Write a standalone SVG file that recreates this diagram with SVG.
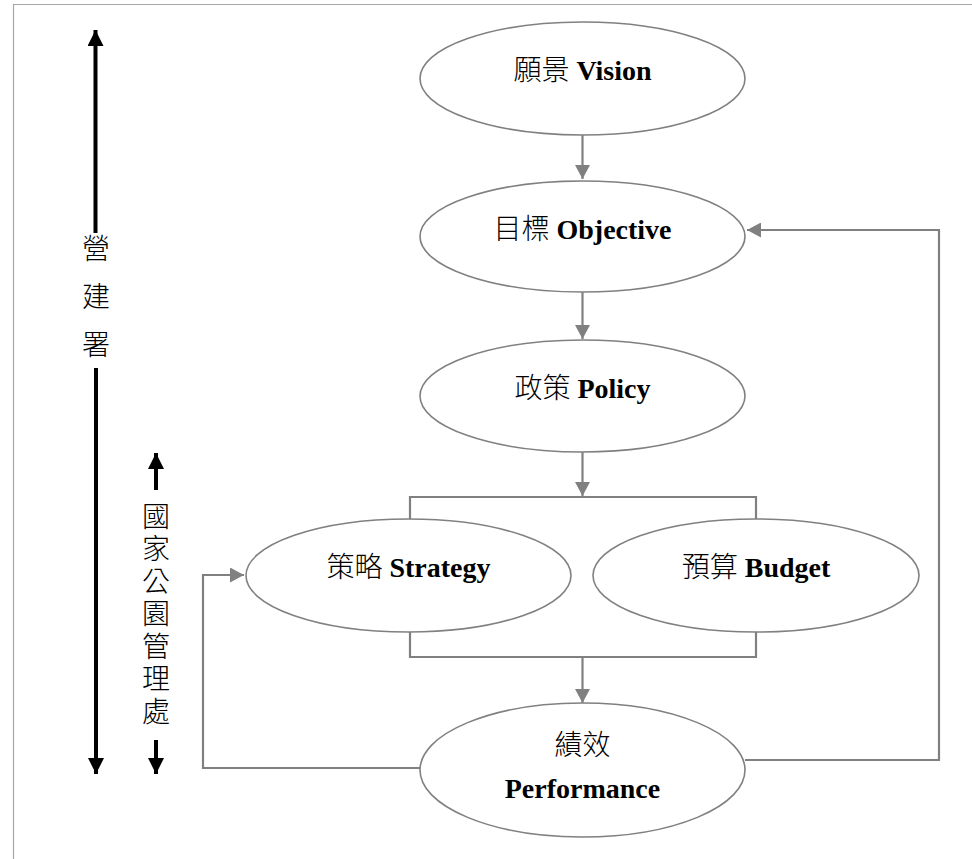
<svg xmlns="http://www.w3.org/2000/svg" width="972" height="859" viewBox="0 0 972 859">
<defs>
<style>
.node ellipse{fill:#fff;stroke:#808080;stroke-width:1.6}
.lbl{font-size:28px;text-anchor:middle;fill:#000}
.zh{font-family:"Noto Sans CJK TC","Noto Sans CJK SC",sans-serif;font-weight:300}
.en{font-family:"Liberation Serif","Times New Roman",serif;font-weight:bold}
.conn{fill:none;stroke:#808080;stroke-width:2.2}
.side{fill:none;stroke:#000;stroke-width:4}
.vt{font-family:"Noto Sans CJK TC","Noto Sans CJK SC",sans-serif;font-weight:300;font-size:28px;fill:#000;writing-mode:vertical-rl;text-orientation:upright}
</style>
<marker id="ag" viewBox="0 0 14 15" refX="14" refY="7.5" markerWidth="14" markerHeight="15" orient="auto" markerUnits="userSpaceOnUse">
<path d="M0,0 L14,7.5 L0,15 z" fill="#808080"/>
</marker>
<marker id="ab" viewBox="0 0 16 16" refX="16" refY="8" markerWidth="16" markerHeight="16" orient="auto" markerUnits="userSpaceOnUse">
<path d="M0,0 L16,8 L0,16 z" fill="#000"/>
</marker>
</defs>
<rect width="972" height="859" fill="#fff"/>
<path d="M13.5,859 V4.5 H972" fill="none" stroke="#a6a6a6" stroke-width="1.2"/>

<g id="connectors">
<path class="conn" d="M582.5,135 V179" marker-end="url(#ag)"/>
<path class="conn" d="M582.5,292 V339" marker-end="url(#ag)"/>
<path class="conn" d="M582.5,452 V496" marker-end="url(#ag)"/>
<path class="conn" d="M410,519 V497 H756 V519"/>
<path class="conn" d="M410,632 V657 H756 V632"/>
<path class="conn" d="M582.5,657 V703" marker-end="url(#ag)"/>
<path class="conn" d="M420,768 H203 V575 H244" marker-end="url(#ag)"/>
<path class="conn" d="M745,760 H939 V230 H747" marker-end="url(#ag)"/>
</g>

<g id="n-vision" class="node">
<ellipse cx="582.5" cy="78.5" rx="162.5" ry="56.5"/>
<text class="lbl" x="582.5" y="80"><tspan class="zh">願景</tspan> <tspan class="en">Vision</tspan></text>
</g>
<g id="n-objective" class="node">
<ellipse cx="582.5" cy="236.5" rx="162.5" ry="55.5"/>
<text class="lbl" x="582.5" y="239"><tspan class="zh">目標</tspan> <tspan class="en">Objective</tspan></text>
</g>
<g id="n-policy" class="node">
<ellipse cx="582.5" cy="396" rx="162.5" ry="56"/>
<text class="lbl" x="582.5" y="398"><tspan class="zh">政策</tspan> <tspan class="en">Policy</tspan></text>
</g>
<g id="n-strategy" class="node">
<ellipse cx="408.5" cy="575.5" rx="162.5" ry="56.5"/>
<text class="lbl" x="408.5" y="577"><tspan class="zh">策略</tspan> <tspan class="en">Strategy</tspan></text>
</g>
<g id="n-budget" class="node">
<ellipse cx="756" cy="575.5" rx="163" ry="56.5"/>
<text class="lbl" x="756" y="577"><tspan class="zh">預算</tspan> <tspan class="en">Budget</tspan></text>
</g>
<g id="n-performance" class="node">
<ellipse cx="582.5" cy="770" rx="162.5" ry="67"/>
<text class="lbl" x="582.5" y="755"><tspan class="zh">績效</tspan></text>
<text class="lbl" x="582.5" y="798"><tspan class="en">Performance</tspan></text>
</g>

<g id="side-cpami">
<path class="side" d="M95.5,233 V30" marker-end="url(#ab)"/>
<path class="side" d="M96,368 V774" marker-end="url(#ab)"/>
<text class="vt" x="96" y="234" letter-spacing="20">營建署</text>
</g>
<g id="side-park">
<path class="side" d="M156,490 V453" marker-end="url(#ab)"/>
<path class="side" d="M156,740 V774" marker-end="url(#ab)"/>
<text class="vt" x="156" y="502" letter-spacing="4.5">國家公園管理處</text>
</g>
</svg>
